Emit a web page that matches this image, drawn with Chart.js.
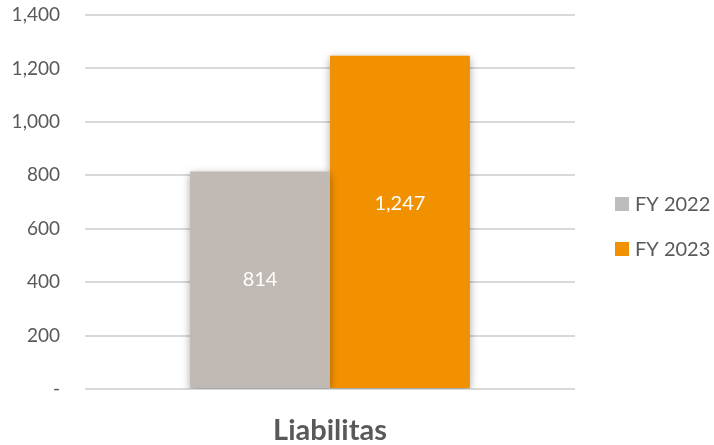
<!DOCTYPE html>
<html>
<head>
<meta charset="utf-8">
<script src="https://cdn.jsdelivr.net/npm/chart.js@4.4.0/dist/chart.umd.min.js"></script>
<style>
  html, body { margin: 0; padding: 0; background: #fff; }
  #wrap { width: 714px; height: 445px; }
</style>
</head>
<body>
<div id="wrap"><canvas id="chart" width="714" height="445"></canvas></div>
<script>
// Données
const categories = ['Liabilitas'];
const seriesNames = ['FY 2022', 'FY 2023'];
const fy2022 = [814];
const fy2023 = [1247];
const barColors = ['#c1b9b4', '#f29100'];
const legendColors = ['#bdbdbd', '#f29100'];

const FONT = 'Lato, "Open Sans", sans-serif';
const TEXT = '#595959';

// Ombre sous les barres
const barShadow = {
    id: 'barShadow',
    beforeDatasetsDraw(chart) {
        const ctx = chart.ctx;
        ctx.save();
        ctx.shadowColor = 'rgba(0,0,0,0.35)';
        ctx.shadowBlur = 8;
        ctx.shadowOffsetY = 2;
    },
    afterDatasetsDraw(chart) {
        chart.ctx.restore();
    }
};

// Étiquettes de valeur dans les barres (position relative à la hauteur)
const labelPos = [0.5, 0.555];
const valueLabels = {
    id: 'valueLabels',
    afterDatasetsDraw(chart) {
        const ctx = chart.ctx;
        ctx.save();
        ctx.fillStyle = '#ffffff';
        ctx.font = '20px ' + FONT;
        ctx.textAlign = 'center';
        ctx.textBaseline = 'middle';
        chart.data.datasets.forEach((ds, i) => {
            chart.getDatasetMeta(i).data.forEach((bar, j) => {
                const y = bar.base + (bar.y - bar.base) * labelPos[i];
                ctx.fillText(ds.data[j].toLocaleString('en-US'), bar.x, y);
            });
        });
        ctx.restore();
    }
};

// Légende à droite
const sideLegend = {
    id: 'sideLegend',
    afterDraw(chart) {
        const ctx = chart.ctx;
        const x = chart.chartArea.right + 40;
        const y0 = 204;
        ctx.save();
        ctx.font = '20px ' + FONT;
        ctx.textBaseline = 'middle';
        chart.data.datasets.forEach((ds, i) => {
            const y = y0 + i * 45;
            ctx.fillStyle = legendColors[i];
            ctx.fillRect(x, y - 7, 14, 14);
            ctx.fillStyle = TEXT;
            ctx.fillText(ds.label, x + 20, y + 1);
        });
        ctx.restore();
    }
};

new Chart(document.getElementById('chart'), {
    type: 'bar',
    data: {
        labels: categories,
        datasets: [
            { label: seriesNames[0], data: fy2022, backgroundColor: barColors[0] },
            { label: seriesNames[1], data: fy2023, backgroundColor: barColors[1] }
        ]
    },
    options: {
        responsive: false,
        animation: false,
        layout: { padding: { top: 15, right: 139, left: 0, bottom: 0 } },
        datasets: {
            bar: { categoryPercentage: 0.571, barPercentage: 1 }
        },
        plugins: {
            legend: { display: false },
            tooltip: { enabled: false }
        },
        scales: {
            x: {
                grid: { display: false },
                border: { display: false },
                ticks: {
                    color: TEXT,
                    font: { family: FONT, size: 29, weight: 'bold' },
                    padding: 16
                },
                afterFit: s => { s.height = 56; }
            },
            y: {
                min: 0,
                max: 1400,
                ticks: {
                    stepSize: 200,
                    color: TEXT,
                    font: { family: FONT, size: 19 },
                    padding: 25,
                    callback: v => v === 0 ? '-' : v.toLocaleString('en-US')
                },
                grid: { color: '#d9d9d9', lineWidth: 2, drawTicks: false },
                border: { display: false },
                afterFit: s => {
                    s.width = 85;
                    s.paddingTop = 0;
                    s.paddingBottom = 0;
                }
            }
        }
    },
    plugins: [barShadow, valueLabels, sideLegend]
});
</script>
</body>
</html>
